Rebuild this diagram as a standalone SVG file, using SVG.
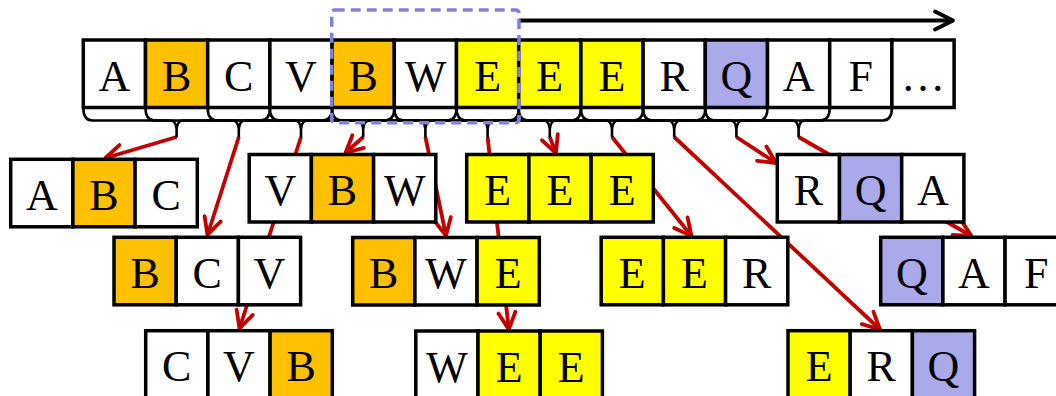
<svg xmlns="http://www.w3.org/2000/svg" width="1056" height="396" viewBox="0 0 1056 396">
<defs>
<style>
.c{stroke:#000;stroke-width:3.5;fill:#fff}
.o{fill:#FFC000}
.y{fill:#FFFF00}
.q{fill:#AAAAEA}
.t{font-family:"Liberation Serif","Times New Roman",serif;font-size:44px;text-anchor:middle;fill:#000}
.br{fill:none;stroke:#000;stroke-width:2.6}
.ra{fill:none;stroke:#C00000;stroke-width:3.8;marker-end:url(#rh)}
</style>
<marker id="rh" markerUnits="userSpaceOnUse" viewBox="-22 -12 26 24" markerWidth="26" markerHeight="24" refX="0" refY="0" orient="auto" overflow="visible">
<path d="M-17,-8.5 L0,0 L-17,8.5" fill="none" stroke="#C00000" stroke-width="3.8" stroke-linecap="round" stroke-linejoin="round"/>
</marker>
<marker id="bh" markerUnits="userSpaceOnUse" viewBox="-22 -12 26 24" markerWidth="26" markerHeight="24" refX="0" refY="0" orient="auto" overflow="visible">
<path d="M-18,-9 L0,0 L-18,9" fill="none" stroke="#000" stroke-width="3.8" stroke-linecap="round" stroke-linejoin="round"/>
</marker>
</defs>
<rect width="1056" height="396" fill="#fff"/>

<g id="connectors">
<path class="ra" d="M176.6,137 L105.5,158"/>
<path class="ra" d="M238.8,137 L207.5,235"/>
<path class="ra" d="M301,137 L239.5,328.5"/>
<path class="ra" d="M363.2,137 L345.5,153"/>
<path class="ra" d="M425.4,137 L446,235.5"/>
<path class="ra" d="M487.6,137 L508.8,329.5"/>
<path class="ra" d="M549.8,137 L556,153"/>
<path class="ra" d="M612,137 L691.5,236"/>
<path class="ra" d="M674.2,137 L880,329.5"/>
<path class="ra" d="M736.4,137 L776,163"/>
<path class="ra" d="M798.6,137 L971.5,236"/>
<path d="M519,20.5 H953" fill="none" stroke="#000" stroke-width="3.8" marker-end="url(#bh)"/>
</g>

<g id="sequence">
<rect class="c" x="83.3" y="40" width="62.2" height="67.5"/>
<rect class="c o" x="145.5" y="40" width="62.2" height="67.5"/>
<rect class="c" x="207.7" y="40" width="62.2" height="67.5"/>
<rect class="c" x="269.9" y="40" width="62.2" height="67.5"/>
<rect class="c o" x="332.1" y="40" width="62.2" height="67.5"/>
<rect class="c" x="394.3" y="40" width="62.2" height="67.5"/>
<rect class="c y" x="456.5" y="40" width="62.2" height="67.5"/>
<rect class="c y" x="518.7" y="40" width="62.2" height="67.5"/>
<rect class="c y" x="580.9" y="40" width="62.2" height="67.5"/>
<rect class="c" x="643.1" y="40" width="62.2" height="67.5"/>
<rect class="c q" x="705.3" y="40" width="62.2" height="67.5"/>
<rect class="c" x="767.5" y="40" width="62.2" height="67.5"/>
<rect class="c" x="829.7" y="40" width="62.2" height="67.5"/>
<rect class="c" x="891.9" y="40" width="62.2" height="67.5"/>
<text class="t" x="114.4" y="90.5">A</text>
<text class="t" x="176.6" y="90.5">B</text>
<text class="t" x="238.8" y="90.5">C</text>
<text class="t" x="301" y="90.5">V</text>
<text class="t" x="363.2" y="90.5">B</text>
<text class="t" x="425.4" y="90.5">W</text>
<text class="t" x="487.6" y="90.5">E</text>
<text class="t" x="549.8" y="90.5">E</text>
<text class="t" x="612" y="90.5">E</text>
<text class="t" x="674.2" y="90.5">R</text>
<text class="t" x="736.4" y="90.5">Q</text>
<text class="t" x="798.6" y="90.5">A</text>
<text class="t" x="860.8" y="90.5">F</text>
<text class="t" x="923" y="90.5">…</text>
</g>

<g id="braces">
<path class="br" d="M83.3,107.5 C83.3,116 86.3,120.5 92.3,120.5 H170.6 Q175.6,120.5 176.6,129 Q177.6,120.5 182.6,120.5 H260.9 C266.9,120.5 269.9,116 269.9,107.5 M176.6,128 V137.5"/>
<path class="br" d="M145.5,107.5 C145.5,116 148.5,120.5 154.5,120.5 H232.8 Q237.8,120.5 238.8,129 Q239.8,120.5 244.8,120.5 H323.1 C329.1,120.5 332.1,116 332.1,107.5 M238.8,128 V137.5"/>
<path class="br" d="M207.7,107.5 C207.7,116 210.7,120.5 216.7,120.5 H295 Q300,120.5 301,129 Q302,120.5 307,120.5 H385.3 C391.3,120.5 394.3,116 394.3,107.5 M301,128 V137.5"/>
<path class="br" d="M269.9,107.5 C269.9,116 272.9,120.5 278.9,120.5 H357.2 Q362.2,120.5 363.2,129 Q364.2,120.5 369.2,120.5 H447.5 C453.5,120.5 456.5,116 456.5,107.5 M363.2,128 V137.5"/>
<path class="br" d="M332.1,107.5 C332.1,116 335.1,120.5 341.1,120.5 H419.4 Q424.4,120.5 425.4,129 Q426.4,120.5 431.4,120.5 H509.7 C515.7,120.5 518.7,116 518.7,107.5 M425.4,128 V137.5"/>
<path class="br" d="M394.3,107.5 C394.3,116 397.3,120.5 403.3,120.5 H481.6 Q486.6,120.5 487.6,129 Q488.6,120.5 493.6,120.5 H571.9 C577.9,120.5 580.9,116 580.9,107.5 M487.6,128 V137.5"/>
<path class="br" d="M456.5,107.5 C456.5,116 459.5,120.5 465.5,120.5 H543.8 Q548.8,120.5 549.8,129 Q550.8,120.5 555.8,120.5 H634.1 C640.1,120.5 643.1,116 643.1,107.5 M549.8,128 V137.5"/>
<path class="br" d="M518.7,107.5 C518.7,116 521.7,120.5 527.7,120.5 H606 Q611,120.5 612,129 Q613,120.5 618,120.5 H696.3 C702.3,120.5 705.3,116 705.3,107.5 M612,128 V137.5"/>
<path class="br" d="M580.9,107.5 C580.9,116 583.9,120.5 589.9,120.5 H668.2 Q673.2,120.5 674.2,129 Q675.2,120.5 680.2,120.5 H758.5 C764.5,120.5 767.5,116 767.5,107.5 M674.2,128 V137.5"/>
<path class="br" d="M643.1,107.5 C643.1,116 646.1,120.5 652.1,120.5 H730.4 Q735.4,120.5 736.4,129 Q737.4,120.5 742.4,120.5 H820.7 C826.7,120.5 829.7,116 829.7,107.5 M736.4,128 V137.5"/>
<path class="br" d="M705.3,107.5 C705.3,116 708.3,120.5 714.3,120.5 H792.6 Q797.6,120.5 798.6,129 Q799.6,120.5 804.6,120.5 H882.9 C888.9,120.5 891.9,116 891.9,107.5 M798.6,128 V137.5"/>
</g>

<g id="window">
<rect x="331.7" y="10" width="187.3" height="112.7" rx="3" fill="none" stroke="#8080E0" stroke-width="3.5" stroke-dasharray="10 6"/>
</g>

<g id="box-ABC">
<rect class="c" x="10.7" y="159.3" width="62.2" height="67.5"/>
<rect class="c o" x="72.9" y="159.3" width="62.2" height="67.5"/>
<rect class="c" x="135.1" y="159.3" width="62.2" height="67.5"/>
<text class="t" x="41.8" y="209.8">A</text>
<text class="t" x="104" y="209.8">B</text>
<text class="t" x="166.2" y="209.8">C</text>
</g>

<g id="box-VBW">
<rect class="c" x="249.2" y="154.5" width="62.2" height="67.5"/>
<rect class="c o" x="311.4" y="154.5" width="62.2" height="67.5"/>
<rect class="c" x="373.6" y="154.5" width="62.2" height="67.5"/>
<text class="t" x="280.3" y="205">V</text>
<text class="t" x="342.5" y="205">B</text>
<text class="t" x="404.7" y="205">W</text>
</g>

<g id="box-EEE">
<rect class="c y" x="466.7" y="154.5" width="62.2" height="67.5"/>
<rect class="c y" x="528.9" y="154.5" width="62.2" height="67.5"/>
<rect class="c y" x="591.1" y="154.5" width="62.2" height="67.5"/>
<text class="t" x="497.8" y="205">E</text>
<text class="t" x="560" y="205">E</text>
<text class="t" x="622.2" y="205">E</text>
</g>

<g id="box-RQA">
<rect class="c" x="777.3" y="154.5" width="62.2" height="67.5"/>
<rect class="c q" x="839.5" y="154.5" width="62.2" height="67.5"/>
<rect class="c" x="901.7" y="154.5" width="62.2" height="67.5"/>
<text class="t" x="808.4" y="205">R</text>
<text class="t" x="870.6" y="205">Q</text>
<text class="t" x="932.8" y="205">A</text>
</g>

<g id="box-BCV">
<rect class="c o" x="114" y="237.3" width="62.2" height="67.5"/>
<rect class="c" x="176.2" y="237.3" width="62.2" height="67.5"/>
<rect class="c" x="238.4" y="237.3" width="62.2" height="67.5"/>
<text class="t" x="145.1" y="287.8">B</text>
<text class="t" x="207.3" y="287.8">C</text>
<text class="t" x="269.5" y="287.8">V</text>
</g>

<g id="box-BWE">
<rect class="c o" x="352.7" y="237.5" width="62.2" height="67.5"/>
<rect class="c" x="414.9" y="237.5" width="62.2" height="67.5"/>
<rect class="c y" x="477.1" y="237.5" width="62.2" height="67.5"/>
<text class="t" x="383.8" y="288">B</text>
<text class="t" x="446" y="288">W</text>
<text class="t" x="508.2" y="288">E</text>
</g>

<g id="box-EER">
<rect class="c y" x="601.2" y="237.3" width="62.2" height="67.5"/>
<rect class="c y" x="663.4" y="237.3" width="62.2" height="67.5"/>
<rect class="c" x="725.6" y="237.3" width="62.2" height="67.5"/>
<text class="t" x="632.3" y="287.8">E</text>
<text class="t" x="694.5" y="287.8">E</text>
<text class="t" x="756.7" y="287.8">R</text>
</g>

<g id="box-QAF">
<rect class="c q" x="880.7" y="237.3" width="62.2" height="67.5"/>
<rect class="c" x="942.9" y="237.3" width="62.2" height="67.5"/>
<rect class="c" x="1005.1" y="237.3" width="62.2" height="67.5"/>
<text class="t" x="911.8" y="287.8">Q</text>
<text class="t" x="974" y="287.8">A</text>
<text class="t" x="1036.2" y="287.8">F</text>
</g>

<g id="box-CVB">
<rect class="c" x="145.7" y="330.7" width="62.2" height="67.5"/>
<rect class="c" x="207.9" y="330.7" width="62.2" height="67.5"/>
<rect class="c o" x="270.1" y="330.7" width="62.2" height="67.5"/>
<text class="t" x="176.8" y="381.2">C</text>
<text class="t" x="239" y="381.2">V</text>
<text class="t" x="301.2" y="381.2">B</text>
</g>

<g id="box-WEE">
<rect class="c" x="415.8" y="331" width="62.2" height="67.5"/>
<rect class="c y" x="478" y="331" width="62.2" height="67.5"/>
<rect class="c y" x="540.2" y="331" width="62.2" height="67.5"/>
<text class="t" x="446.9" y="381.5">W</text>
<text class="t" x="509.1" y="381.5">E</text>
<text class="t" x="571.3" y="381.5">E</text>
</g>

<g id="box-ERQ">
<rect class="c y" x="788" y="330.7" width="62.2" height="67.5"/>
<rect class="c" x="850.2" y="330.7" width="62.2" height="67.5"/>
<rect class="c q" x="912.4" y="330.7" width="62.2" height="67.5"/>
<text class="t" x="819.1" y="381.2">E</text>
<text class="t" x="881.3" y="381.2">R</text>
<text class="t" x="943.5" y="381.2">Q</text>
</g>
</svg>
